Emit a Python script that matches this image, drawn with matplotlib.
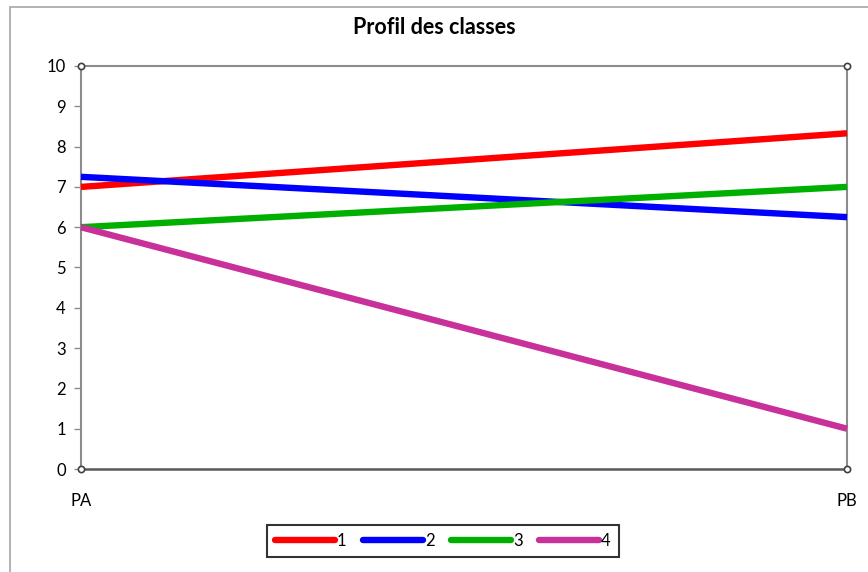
import matplotlib.pyplot as plt
from matplotlib.patches import Rectangle

plt.rcParams['font.family'] = ['Lato', 'DejaVu Sans']

# data
variables = ["PA", "PB"]
classes = ["1", "2", "3", "4"]
profiles = [
    [7.0, 8.33],
    [7.25, 6.25],
    [6.0, 7.0],
    [6.0, 1.0],
]
colors = ["#ff0000", "#0000ff", "#00b000", "#c8309a"]

fig = plt.figure(figsize=(8.68, 5.72), dpi=100)
ax = fig.add_axes([81 / 868, 103 / 572, 766 / 868, 403 / 572])

# outer chart border
fig.patches.append(Rectangle((10 / 868, -0.05), 1.0, 1 - 7 / 572 + 0.05,
                             transform=fig.transFigure, fill=False,
                             edgecolor="#a6a6a6", linewidth=1.2))

xs = list(range(len(variables)))
for name, vals, c in zip(classes, profiles, colors):
    ax.plot(xs, vals, color=c, linewidth=4.6, label=name,
            solid_capstyle="butt", clip_on=False, zorder=3)

ax.set_xlim(0, 1)
ax.set_ylim(0, 10)
ax.set_yticks(range(0, 11))
ax.set_xticks(xs)
ax.set_xticklabels(variables)

for side in ["left", "right", "top"]:
    ax.spines[side].set_color("#8c8c8c")
    ax.spines[side].set_linewidth(1.5)
ax.spines["bottom"].set_color("#595959")
ax.spines["bottom"].set_linewidth(1.8)

ax.tick_params(axis="y", direction="out", length=5, width=1, color="#8c8c8c",
               labelsize=12, pad=6)
ax.tick_params(axis="x", length=0, labelsize=12, pad=17)

# small circles at the corners of the plot area
for cx, cy in [(0, 0), (1, 0), (0, 10), (1, 10)]:
    ax.plot(cx, cy, marker="o", markersize=4.5, markerfacecolor="white",
            markeredgecolor="#404040", markeredgewidth=1.2, clip_on=False,
            zorder=5)

fig.text(434 / 868, 1 - 28 / 572, "Profil des classes", fontsize=15.5,
         fontweight="bold", ha="center", va="center")

leg = fig.legend(loc="center", bbox_to_anchor=(443 / 868, 1 - 541 / 572),
                 ncol=4, frameon=True, fancybox=False, fontsize=12,
                 handlelength=3.6, handletextpad=0.1, columnspacing=1.0,
                 borderpad=0.5)
leg.get_frame().set_edgecolor("black")
leg.get_frame().set_linewidth(1.5)
for line in leg.get_lines():
    line.set_solid_capstyle("round")
    line.set_linewidth(4.6)

fig.savefig("out.png", dpi=100)
